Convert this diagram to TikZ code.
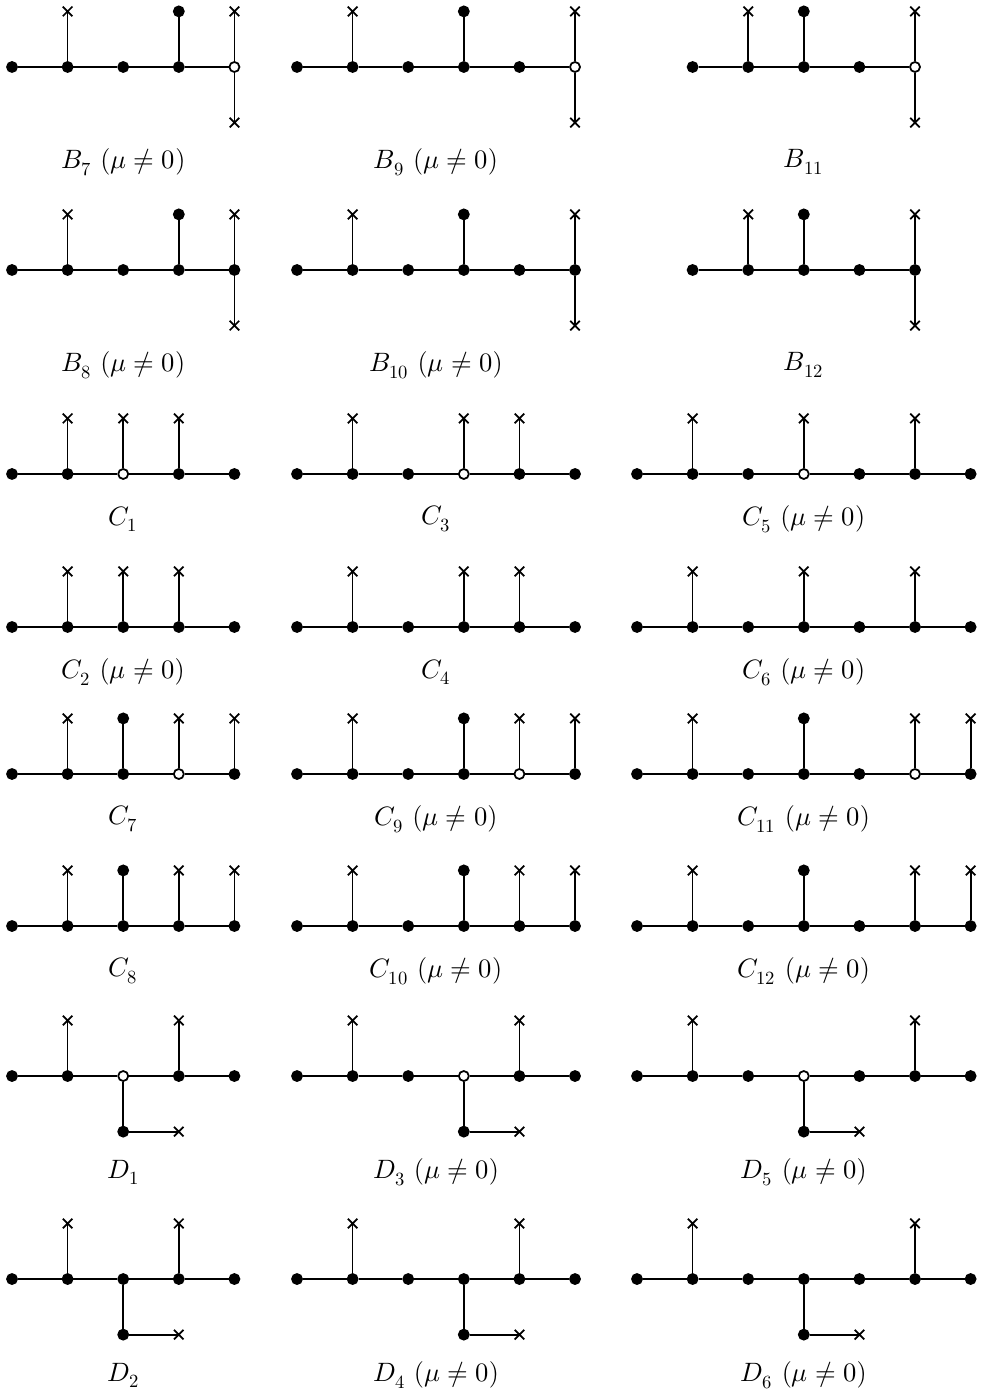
\documentclass[tikz,border=0pt]{standalone}
\usepackage{unicode-math}
\setmathfont{Latin Modern Math}
\usetikzlibrary{shapes.misc, positioning}
\newcommand{\munz}{\ ($\mu \neq 0$)}

\begin{document}
\begin{tikzpicture}[
    node distance=1cm, on grid,
    dot/.style={circle, draw=black, fill=black, line width=0.9pt, inner sep=0pt, minimum size=0.18cm},
    hole/.style={dot, fill=white},
    cross/.style={cross out, draw=black, line width=0.9pt, inner sep=0pt, minimum size=0.14cm},
    edge/.style={line width=0.9pt},
    tag/.style={font=\fontsize{13.6}{16}\selectfont}
]
\useasboundingbox (0,0) rectangle (17.644,-25.108);

% B family: first the row with the open vertex, then the filled one
\foreach \y/\v/\na/\nb/\nc in {1.205/hole/7/9/11, 4.856/dot/8/10/12} {
  \begin{scope}[shift={(0.216,-\y)}]
    \foreach \i in {1,...,4} \node[dot] (l\i) at (\i-1,0) {};
    \node[\v] (l5) at (4,0) {};
    \node[cross, above=of l2] (l2u) {};
    \node[dot, above=of l4] (l4u) {};
    \node[cross, above=of l5] (l5u) {};
    \node[cross, below=of l5] (l5d) {};
    \draw[edge] (l1) -- (l2) -- (l3) -- (l4) -- (l5);
    \draw[edge] (l2) -- (l2u.center) (l4) -- (l4u) (l5) -- (l5u.center) (l5) -- (l5d.center);
    \node[tag] (lt) at (2,-1.71) {$B_{\na}$\munz};
  \end{scope}
  \begin{scope}[shift={(5.342,-\y)}]
    \foreach \i in {1,...,5} \node[dot] (m\i) at (\i-1,0) {};
    \node[\v] (m6) at (5,0) {};
    \node[cross, above=of m2] (m2u) {};
    \node[dot, above=of m4] (m4u) {};
    \node[cross, above=of m6] (m6u) {};
    \node[cross, below=of m6] (m6d) {};
    \draw[edge] (m1) -- (m2) -- (m3) -- (m4) -- (m5) -- (m6);
    \draw[edge] (m2) -- (m2u.center) (m4) -- (m4u) (m6) -- (m6u.center) (m6) -- (m6d.center);
    \node[tag] (mt) at (2.5,-1.71) {$B_{\nb}$\munz};
  \end{scope}
  \begin{scope}[shift={(12.457,-\y)}]
    \foreach \i in {1,...,4} \node[dot] (r\i) at (\i-1,0) {};
    \node[\v] (r5) at (4,0) {};
    \node[cross, above=of r2] (r2u) {};
    \node[dot, above=of r3] (r3u) {};
    \node[cross, above=of r5] (r5u) {};
    \node[cross, below=of r5] (r5d) {};
    \draw[edge] (r1) -- (r2) -- (r3) -- (r4) -- (r5);
    \draw[edge] (r2) -- (r2u.center) (r3) -- (r3u) (r5) -- (r5u.center) (r5) -- (r5d.center);
    \node[tag] (rt) at (2,-1.71) {$B_{\nc}$};
  \end{scope}
}

% C_1 to C_6
\foreach \y/\v/\na/\nb/\nc/\s in {8.525/hole/1/3/5/\relax, 11.277/dot/2/4/6/\munz} {
  \begin{scope}[shift={(0.216,-\y)}]
    \foreach \i in {1,2,4,5} \node[dot] (l\i) at (\i-1,0) {};
    \node[\v] (l3) at (2,0) {};
    \foreach \i in {2,3,4} \node[cross, above=of l\i] (l\i u) {};
    \draw[edge] (l1) -- (l2) -- (l3) -- (l4) -- (l5);
    \draw[edge] (l2) -- (l2u.center) (l3) -- (l3u.center) (l4) -- (l4u.center);
    \node[tag] (lt) at (2,-0.81) {$C_{\na}$\s};
  \end{scope}
  \begin{scope}[shift={(5.342,-\y)}]
    \foreach \i in {1,2,3,5,6} \node[dot] (m\i) at (\i-1,0) {};
    \node[\v] (m4) at (3,0) {};
    \foreach \i in {2,4,5} \node[cross, above=of m\i] (m\i u) {};
    \draw[edge] (m1) -- (m2) -- (m3) -- (m4) -- (m5) -- (m6);
    \draw[edge] (m2) -- (m2u.center) (m4) -- (m4u.center) (m5) -- (m5u.center);
    \node[tag] (mt) at (2.5,-0.81) {$C_{\nb}$};
  \end{scope}
  \begin{scope}[shift={(11.457,-\y)}]
    \foreach \i in {1,2,3,5,6,7} \node[dot] (r\i) at (\i-1,0) {};
    \node[\v] (r4) at (3,0) {};
    \foreach \i in {2,4,6} \node[cross, above=of r\i] (r\i u) {};
    \draw[edge] (r1) -- (r2) -- (r3) -- (r4) -- (r5) -- (r6) -- (r7);
    \draw[edge] (r2) -- (r2u.center) (r4) -- (r4u.center) (r6) -- (r6u.center);
    \node[tag] (rt) at (3,-0.81) {$C_{\nc}$\munz};
  \end{scope}
}

% C_7 to C_12
\foreach \y/\v/\na/\nb/\nc in {13.921/hole/7/9/11, 16.655/dot/8/10/12} {
  \begin{scope}[shift={(0.216,-\y)}]
    \foreach \i in {1,2,3,5} \node[dot] (l\i) at (\i-1,0) {};
    \node[\v] (l4) at (3,0) {};
    \foreach \i in {2,4,5} \node[cross, above=of l\i] (l\i u) {};
    \node[dot, above=of l3] (l3u) {};
    \draw[edge] (l1) -- (l2) -- (l3) -- (l4) -- (l5);
    \draw[edge] (l2) -- (l2u.center) (l3) -- (l3u) (l4) -- (l4u.center) (l5) -- (l5u.center);
    \node[tag] (lt) at (2,-0.81) {$C_{\na}$};
  \end{scope}
  \begin{scope}[shift={(5.342,-\y)}]
    \foreach \i in {1,2,3,4,6} \node[dot] (m\i) at (\i-1,0) {};
    \node[\v] (m5) at (4,0) {};
    \foreach \i in {2,5,6} \node[cross, above=of m\i] (m\i u) {};
    \node[dot, above=of m4] (m4u) {};
    \draw[edge] (m1) -- (m2) -- (m3) -- (m4) -- (m5) -- (m6);
    \draw[edge] (m2) -- (m2u.center) (m4) -- (m4u) (m5) -- (m5u.center) (m6) -- (m6u.center);
    \node[tag] (mt) at (2.5,-0.81) {$C_{\nb}$\munz};
  \end{scope}
  \begin{scope}[shift={(11.457,-\y)}]
    \foreach \i in {1,2,3,4,5,7} \node[dot] (r\i) at (\i-1,0) {};
    \node[\v] (r6) at (5,0) {};
    \foreach \i in {2,6,7} \node[cross, above=of r\i] (r\i u) {};
    \node[dot, above=of r4] (r4u) {};
    \draw[edge] (r1) -- (r2) -- (r3) -- (r4) -- (r5) -- (r6) -- (r7);
    \draw[edge] (r2) -- (r2u.center) (r4) -- (r4u) (r6) -- (r6u.center) (r7) -- (r7u.center);
    \node[tag] (rt) at (3,-0.81) {$C_{\nc}$\munz};
  \end{scope}
}

% D family, with the hanging leg
\foreach \y/\v/\na/\nb/\nc in {19.353/hole/1/3/5, 23.004/dot/2/4/6} {
  \begin{scope}[shift={(0.216,-\y)}]
    \foreach \i in {1,2,4,5} \node[dot] (l\i) at (\i-1,0) {};
    \node[\v] (l3) at (2,0) {};
    \foreach \i in {2,4} \node[cross, above=of l\i] (l\i u) {};
    \node[dot, below=of l3] (l3d) {};
    \node[cross, right=of l3d] (l3e) {};
    \draw[edge] (l1) -- (l2) -- (l3) -- (l4) -- (l5);
    \draw[edge] (l2) -- (l2u.center) (l4) -- (l4u.center) (l3) -- (l3d) -- (l3e.center);
    \node[tag] (lt) at (2,-1.73) {$D_{\na}$};
  \end{scope}
  \begin{scope}[shift={(5.342,-\y)}]
    \foreach \i in {1,2,3,5,6} \node[dot] (m\i) at (\i-1,0) {};
    \node[\v] (m4) at (3,0) {};
    \foreach \i in {2,5} \node[cross, above=of m\i] (m\i u) {};
    \node[dot, below=of m4] (m4d) {};
    \node[cross, right=of m4d] (m4e) {};
    \draw[edge] (m1) -- (m2) -- (m3) -- (m4) -- (m5) -- (m6);
    \draw[edge] (m2) -- (m2u.center) (m5) -- (m5u.center) (m4) -- (m4d) -- (m4e.center);
    \node[tag] (mt) at (2.5,-1.73) {$D_{\nb}$\munz};
  \end{scope}
  \begin{scope}[shift={(11.457,-\y)}]
    \foreach \i in {1,2,3,5,6,7} \node[dot] (r\i) at (\i-1,0) {};
    \node[\v] (r4) at (3,0) {};
    \foreach \i in {2,6} \node[cross, above=of r\i] (r\i u) {};
    \node[dot, below=of r4] (r4d) {};
    \node[cross, right=of r4d] (r4e) {};
    \draw[edge] (r1) -- (r2) -- (r3) -- (r4) -- (r5) -- (r6) -- (r7);
    \draw[edge] (r2) -- (r2u.center) (r6) -- (r6u.center) (r4) -- (r4d) -- (r4e.center);
    \node[tag] (rt) at (3,-1.73) {$D_{\nc}$\munz};
  \end{scope}
}
\end{tikzpicture}
\end{document}
